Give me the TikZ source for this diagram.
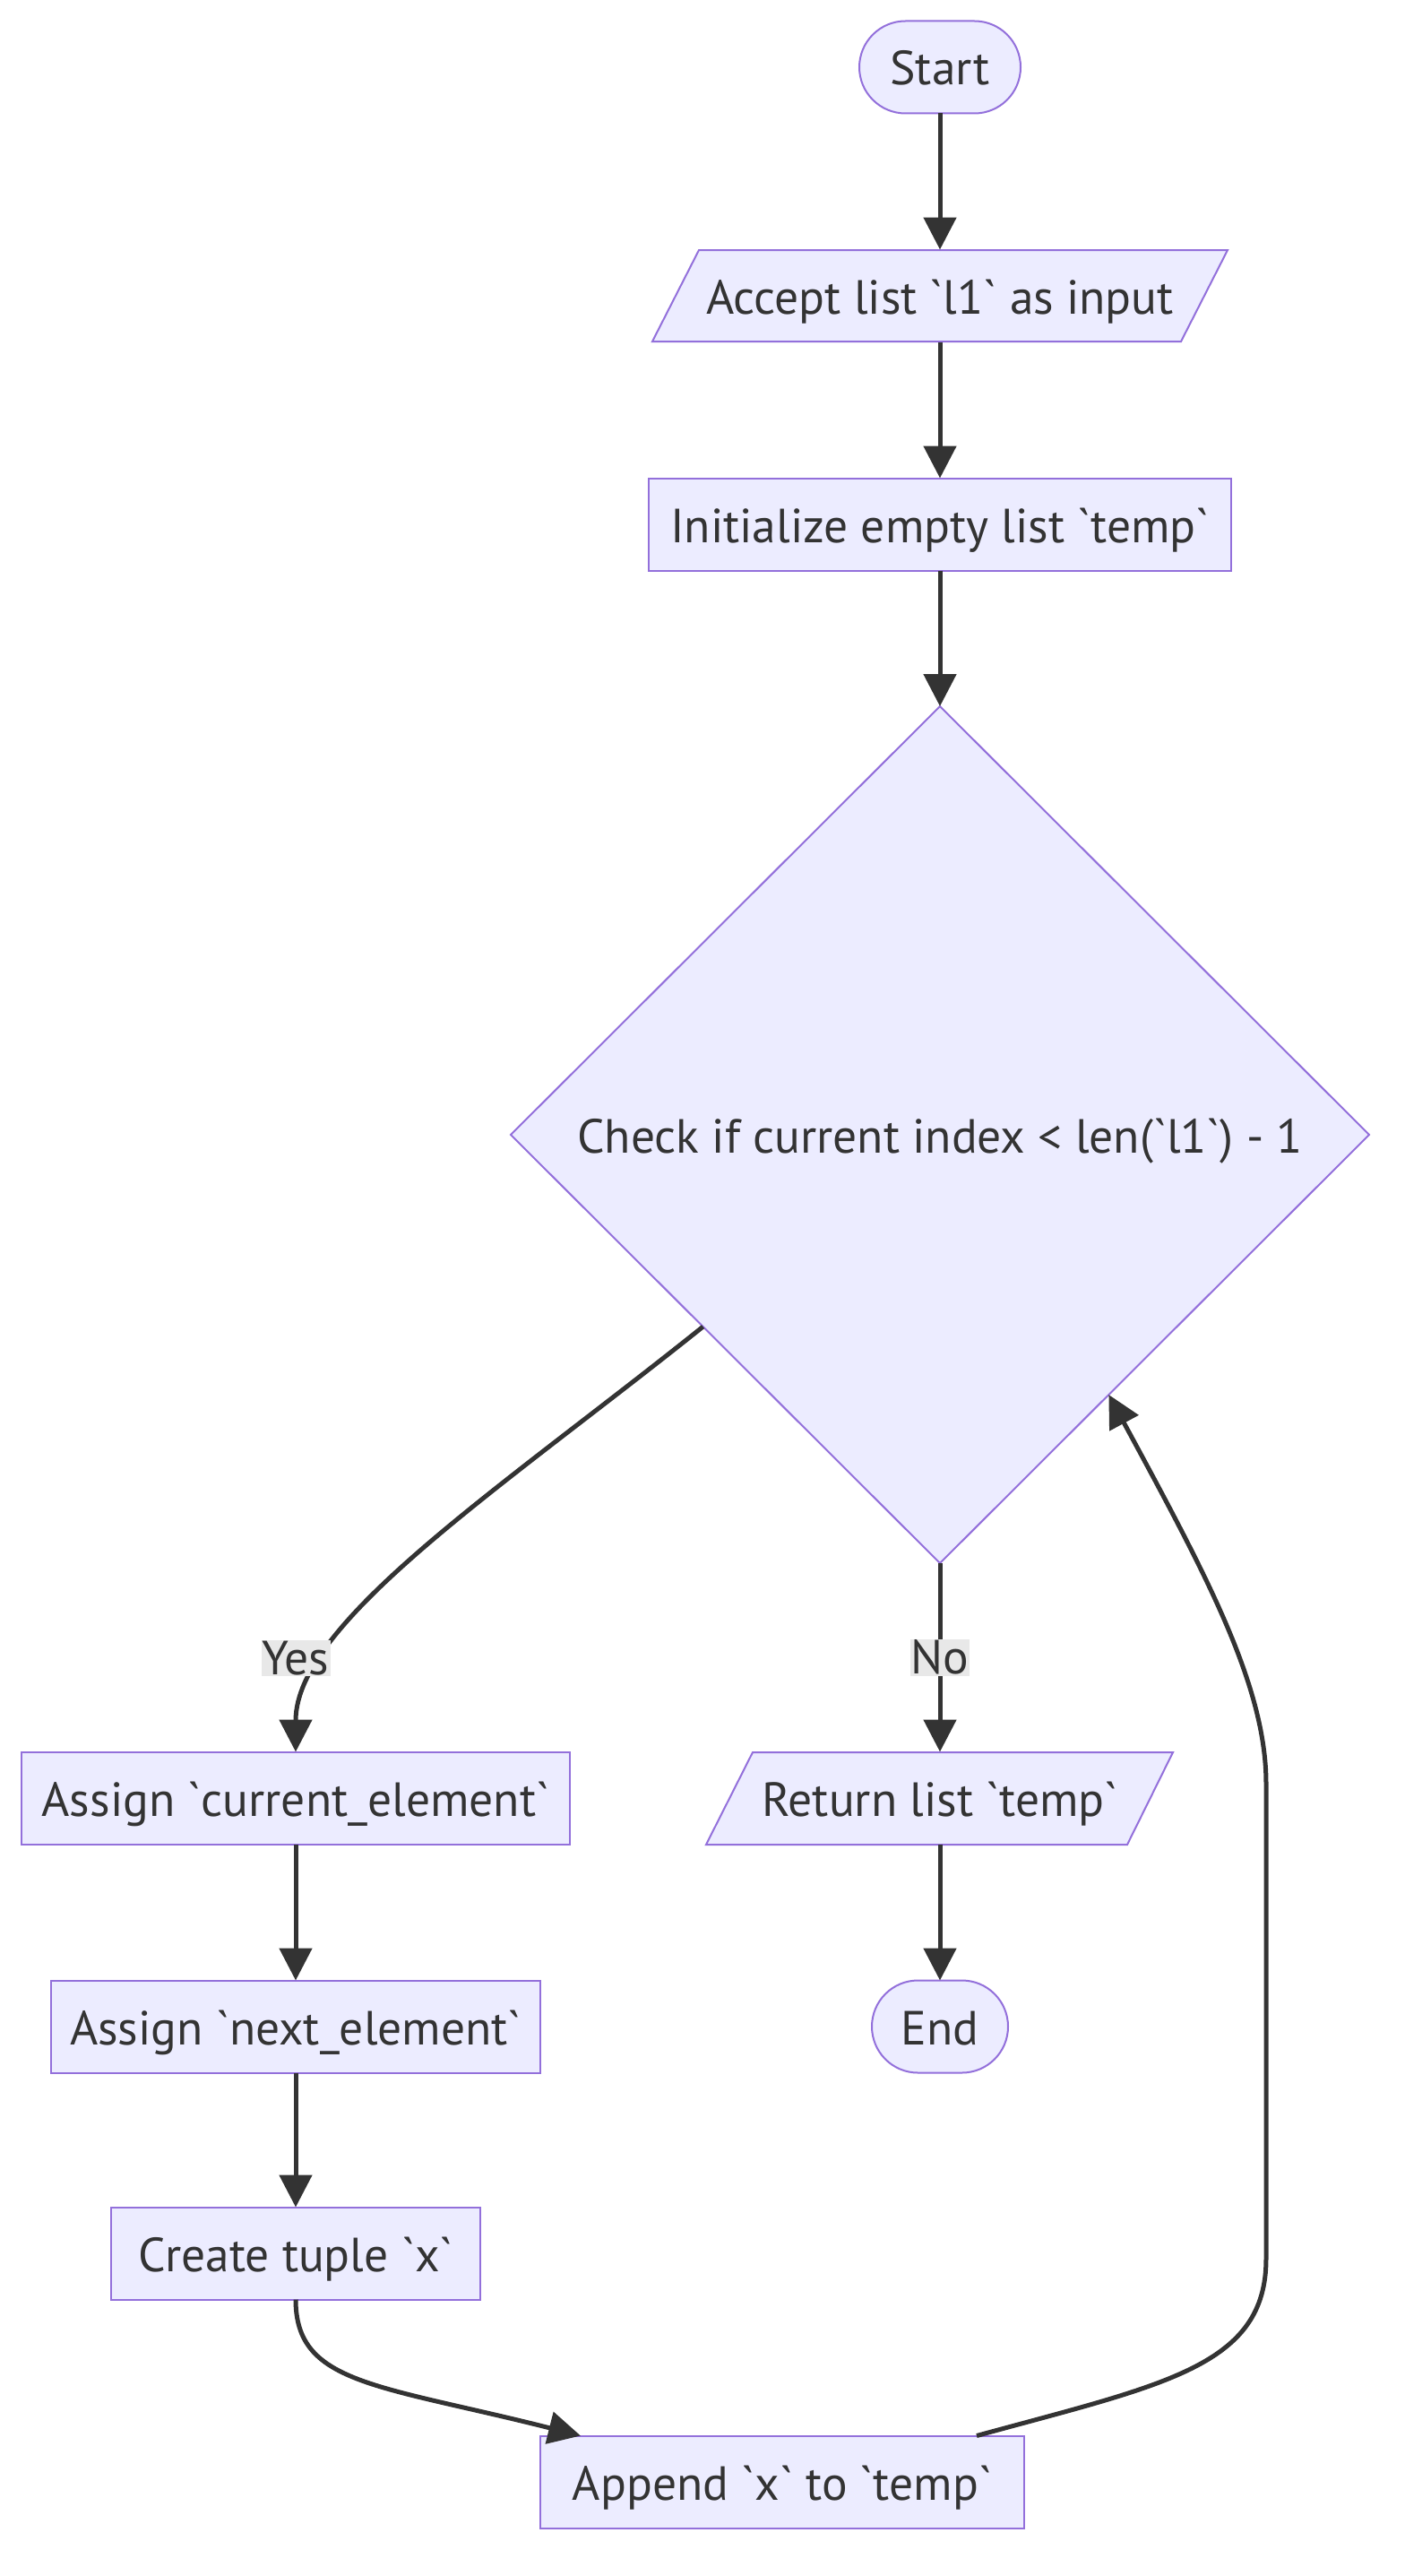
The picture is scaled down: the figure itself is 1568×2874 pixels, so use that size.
\documentclass[tikz,border=0pt]{standalone}
\usepackage{fontspec}
\setmainfont{PT Sans}[Ligatures=TeXOff]
\usetikzlibrary{arrows.meta,shapes.geometric,calc}
\definecolor{nfill}{HTML}{ECECFF}
\definecolor{nline}{HTML}{9370DB}
\definecolor{eline}{HTML}{333333}
\definecolor{lbg}{HTML}{E8E8E8}
\newcommand{\bq}{\symbol{96}}
\begin{document}
\begin{tikzpicture}[x=1pt,y=-1pt,
  every node/.style={font=\fontsize{53.5}{60}\selectfont, text=eline},
  box/.style={draw=nline, fill=nfill, line width=2pt, minimum height=103pt, inner sep=0pt, outer sep=0pt, text height=46pt, text depth=6pt},
  stadium/.style={box, rounded corners=51.5pt},
  pgramtext/.style={inner sep=0pt, outer sep=0pt, minimum height=103pt, text height=46pt, text depth=6pt},
  pgram/.style={draw=nline, fill=nfill, line width=2pt},
  decision/.style={box, diamond, minimum width=958pt, minimum height=956pt},
  arr/.style={draw=eline, line width=5pt, -{Triangle[length=36pt,width=36pt]}},
  lbl/.style={fill=lbg, inner sep=1pt}
]
\fill[white] (0,0) rectangle (1568,2874);
\useasboundingbox (0,0) rectangle (1568,2874);

% nodes
\node[stadium, minimum width=180pt] (start) at (1049,75) {Start};

\filldraw[pgram] (780,279) -- (1370,279) -- (1318,381) -- (728,381) -- cycle;
\node[pgramtext, minimum width=590pt] (acc) at (1049,330) {Accept list \bq l1\bq\ as input};

\node[box, minimum width=650pt] (init) at (1049,585) {Initialize empty list \bq temp\bq};

\node[decision] (dia) at (1049,1266) {Check if current index < len(\bq l1\bq) - 1};

\node[box, minimum width=612pt] (ace) at (330,2006) {Assign \bq current\_element\bq};

\filldraw[pgram] (840,1955) -- (1309,1955) -- (1258,2058) -- (788,2058) -- cycle;
\node[pgramtext, minimum width=470pt] (ret) at (1049,2006) {Return list \bq temp\bq};

\node[stadium, minimum width=152pt] (end) at (1049,2261) {End};

\node[box, minimum width=546pt] (ane) at (330,2261) {Assign \bq next\_element\bq};

\node[box, minimum width=412pt] (ct) at (330,2514) {Create tuple \bq x\bq};

\node[box, minimum width=540pt] (app) at (873,2769) {Append \bq x\bq\ to \bq temp\bq};

% edges
\draw[arr] (start.south) -- (acc.north);
\draw[arr] (acc.south) -- (init.north);
\draw[arr] (init.south) -- (dia.north);
\draw[arr] (dia.-141) .. controls (560,1660) and (330,1810) .. (ace.north);
\node[lbl] (yes) at (330,1850) {Yes};
\draw[arr] (dia.south) -- node[lbl] (no) {No} (ret.north);
\draw[arr] (ret.south) -- (end.north);
\draw[arr] (ace.south) -- (ane.north);
\draw[arr] (ane.south) -- (ct.north);
\coordinate (appin) at ([xshift=45pt]app.north west);
\draw[arr] (ct.south) .. controls (330,2660) and (420,2660) .. (appin);
\coordinate (appout) at ([xshift=487pt]app.north west);
\draw[arr] (appout) .. controls (1300,2660) and (1413,2640) .. (1413,2520)
  -- (1413,1990) .. controls (1413,1880) and (1345,1755) .. (dia.-57);
\end{tikzpicture}
\end{document}
